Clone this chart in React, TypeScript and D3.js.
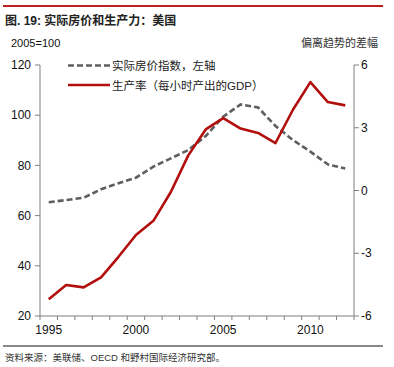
import React from 'react';
import * as d3 from 'd3';

const years = d3.range(1995, 2013).map(String);
const housePrice = [65.3, 66.2, 67.1, 70.5, 72.9, 75.1, 79.5, 82.8, 86.1, 91.7, 99.4, 104.3, 103.1, 95.7, 90.1, 85.5, 80.4, 78.8];
const productivity = [-5.2, -4.52, -4.63, -4.15, -3.17, -2.13, -1.45, -0.07, 1.68, 2.92, 3.46, 2.96, 2.75, 2.27, 3.86, 5.18, 4.23, 4.07];
const leftTicks = [20, 40, 60, 80, 100, 120];
const rightTicks = [-6, -3, 0, 3, 6];
const yearLabels = ['1995', '2000', '2005', '2010'];

const FONT = '"Liberation Sans", Arial, "Noto Sans CJK SC", sans-serif';
const AXIS = '#808080';

const App: React.FC = () => {
  const W = 394, H = 367;
  const left = 40, right = 354, top = 65, bottom = 316;

  const x = d3.scaleBand().domain(years).range([left, right]);
  const yL = d3.scaleLinear().domain([20, 120]).range([bottom, top]);
  const yR = d3.scaleLinear().domain([-6, 6]).range([bottom, top]);

  const cx = (d: string) => (x(d) as number) + x.bandwidth() / 2;

  const houseLine = d3.line<number>()
    .x((_, i) => cx(years[i]))
    .y(d => yL(d));
  const prodLine = d3.line<number>()
    .x((_, i) => cx(years[i]))
    .y(d => yR(d));

  // tick positions between categories
  const xTicks = years.map(y => x(y) as number).concat([right]);

  return (
    <svg width={W} height={H} style={{ position: 'absolute', left: 0, top: 0, background: '#fff' }}
      fontFamily={FONT}>
      {/* top rule */}
      <line x1={3} x2={383} y1={6} y2={6} stroke="#c0201c" strokeWidth={2} />
      <text x={5} y={25} fontSize={12} fontWeight="bold" fill="#222">图. 19: 实际房价和生产力：美国</text>
      <text x={11} y={47} fontSize={11} fill="#111">2005=100</text>
      <text x={378} y={47} fontSize={11} fill="#333" textAnchor="end">偏离趋势的差幅</text>

      {/* axes */}
      <line x1={left} x2={left} y1={top} y2={bottom} stroke={AXIS} />
      <line x1={right} x2={right} y1={top} y2={bottom} stroke={AXIS} />
      <line x1={left} x2={right} y1={bottom} y2={bottom} stroke={AXIS} />
      {leftTicks.map(t => (
        <g key={'l' + t}>
          <line x1={left - 5} x2={left} y1={yL(t)} y2={yL(t)} stroke={AXIS} />
          <text x={left - 9} y={yL(t)} dy="0.35em" fontSize={12} textAnchor="end" fill="#111">{t}</text>
        </g>
      ))}
      {rightTicks.map(t => (
        <g key={'r' + t}>
          <line x1={right} x2={right + 5} y1={yR(t)} y2={yR(t)} stroke={AXIS} />
          <text x={right + 7} y={yR(t)} dy="0.35em" fontSize={12} fill="#111">{t}</text>
        </g>
      ))}
      {xTicks.map((t, i) => (
        <line key={'x' + i} x1={t} x2={t} y1={bottom} y2={bottom + 4} stroke={AXIS} />
      ))}
      {yearLabels.map(y => (
        <text key={y} x={cx(y)} y={bottom + 18} fontSize={12} textAnchor="middle" fill="#111">{y}</text>
      ))}

      {/* series */}
      <path d={houseLine(housePrice) || ''} fill="none" stroke="#5f5f5f" strokeWidth={2.6} strokeDasharray="6,3" />
      <path d={prodLine(productivity) || ''} fill="none" stroke="#b20e0e" strokeWidth={2.6} strokeLinejoin="round" />

      {/* legend */}
      <line x1={68} x2={110} y1={65.5} y2={65.5} stroke="#5f5f5f" strokeWidth={2.6} strokeDasharray="6,3" />
      <text x={112} y={66} dy="0.35em" fontSize={11.5} fill="#222">实际房价指数，左轴</text>
      <line x1={68} x2={110} y1={85} y2={85} stroke="#b20e0e" strokeWidth={2.6} />
      <text x={112} y={85.5} dy="0.35em" fontSize={11.5} fill="#222">生产率（每小时产出的GDP）</text>

      {/* bottom rule and source */}
      <line x1={3} x2={383} y1={346} y2={346} stroke="#111" strokeWidth={1} />
      <text x={5} y={361} fontSize={9.5} fill="#333">资料来源：美联储、OECD 和野村国际经济研究部。</text>
    </svg>
  );
};

export default App;
